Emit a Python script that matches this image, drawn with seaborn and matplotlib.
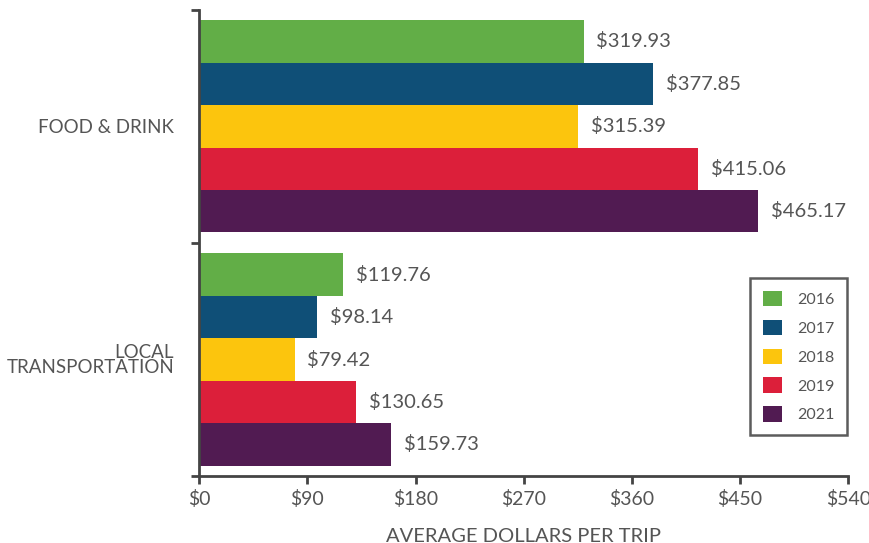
import pandas as pd
import matplotlib.pyplot as plt
import seaborn as sns

categories = ["FOOD & DRINK", "LOCAL\nTRANSPORTATION"]
years = ["2016", "2017", "2018", "2019", "2021"]
food = [319.93, 377.85, 315.39, 415.06, 465.17]
transport = [119.76, 98.14, 79.42, 130.65, 159.73]
colors = ["#62ae47", "#0f4f77", "#fcc50d", "#dc1f3a", "#511b52"]
xticks = [0, 90, 180, 270, 360, 450, 540]

rows = []
for i, y in enumerate(years):
    rows.append({"category": categories[0], "year": y, "value": food[i]})
    rows.append({"category": categories[1], "year": y, "value": transport[i]})
df = pd.DataFrame(rows)

sns.set_style("white")
plt.rcParams["font.family"] = ["Lato", "DejaVu Sans"]
grey = "#555555"
axis_col = "#444444"

fig = plt.figure(figsize=(8.7, 5.43), dpi=100)
ax = fig.add_axes([0.229, 0.123, 0.746, 0.859])

sns.barplot(data=df, y="category", x="value", hue="year", hue_order=years,
            order=categories, palette=colors, width=0.91, orient="h",
            saturation=1, linewidth=0, ax=ax, legend=True)

for cont in ax.containers:
    ax.bar_label(cont, labels=[f"${v:.2f}" for v in cont.datavalues],
                 padding=9, fontsize=14.5, color=grey)

ax.set_xlim(0, 540)
ax.set_ylim(1.5, -0.5)
ax.set_xticks(xticks)
ax.set_xticklabels([f"${t}" for t in xticks], fontsize=14, color=grey)
ax.set_yticks([0, 1])
ax.set_yticklabels(categories, fontsize=13.5, color=grey, linespacing=0.85,
                   multialignment="right")
ax.set_yticks([-0.5, 0.5, 1.5], minor=True)
ax.tick_params(axis="y", which="major", length=0, pad=18, left=False)
ax.tick_params(axis="y", which="minor", length=6, width=2, color=axis_col,
               direction="out", left=True)
ax.tick_params(axis="x", length=6, width=2, color=axis_col, direction="out",
               pad=4, bottom=True)
ax.set_xlabel("AVERAGE DOLLARS PER TRIP", fontsize=14.5, color=grey, labelpad=14)
ax.set_ylabel("")

sns.despine(ax=ax)
for s in ["left", "bottom"]:
    ax.spines[s].set_color(axis_col)
    ax.spines[s].set_linewidth(2)

leg = ax.legend(loc="lower right", bbox_to_anchor=(0.998, 0.088), frameon=True,
                fancybox=False, fontsize=11.5, handlelength=1.2, handleheight=1.1,
                labelspacing=0.8, borderpad=0.8, handletextpad=0.9,
                borderaxespad=0.0)
leg.get_frame().set_edgecolor("#333333")
leg.get_frame().set_linewidth(1.8)
for t in leg.get_texts():
    t.set_color(grey)

plt.savefig("out.png", dpi=100)
